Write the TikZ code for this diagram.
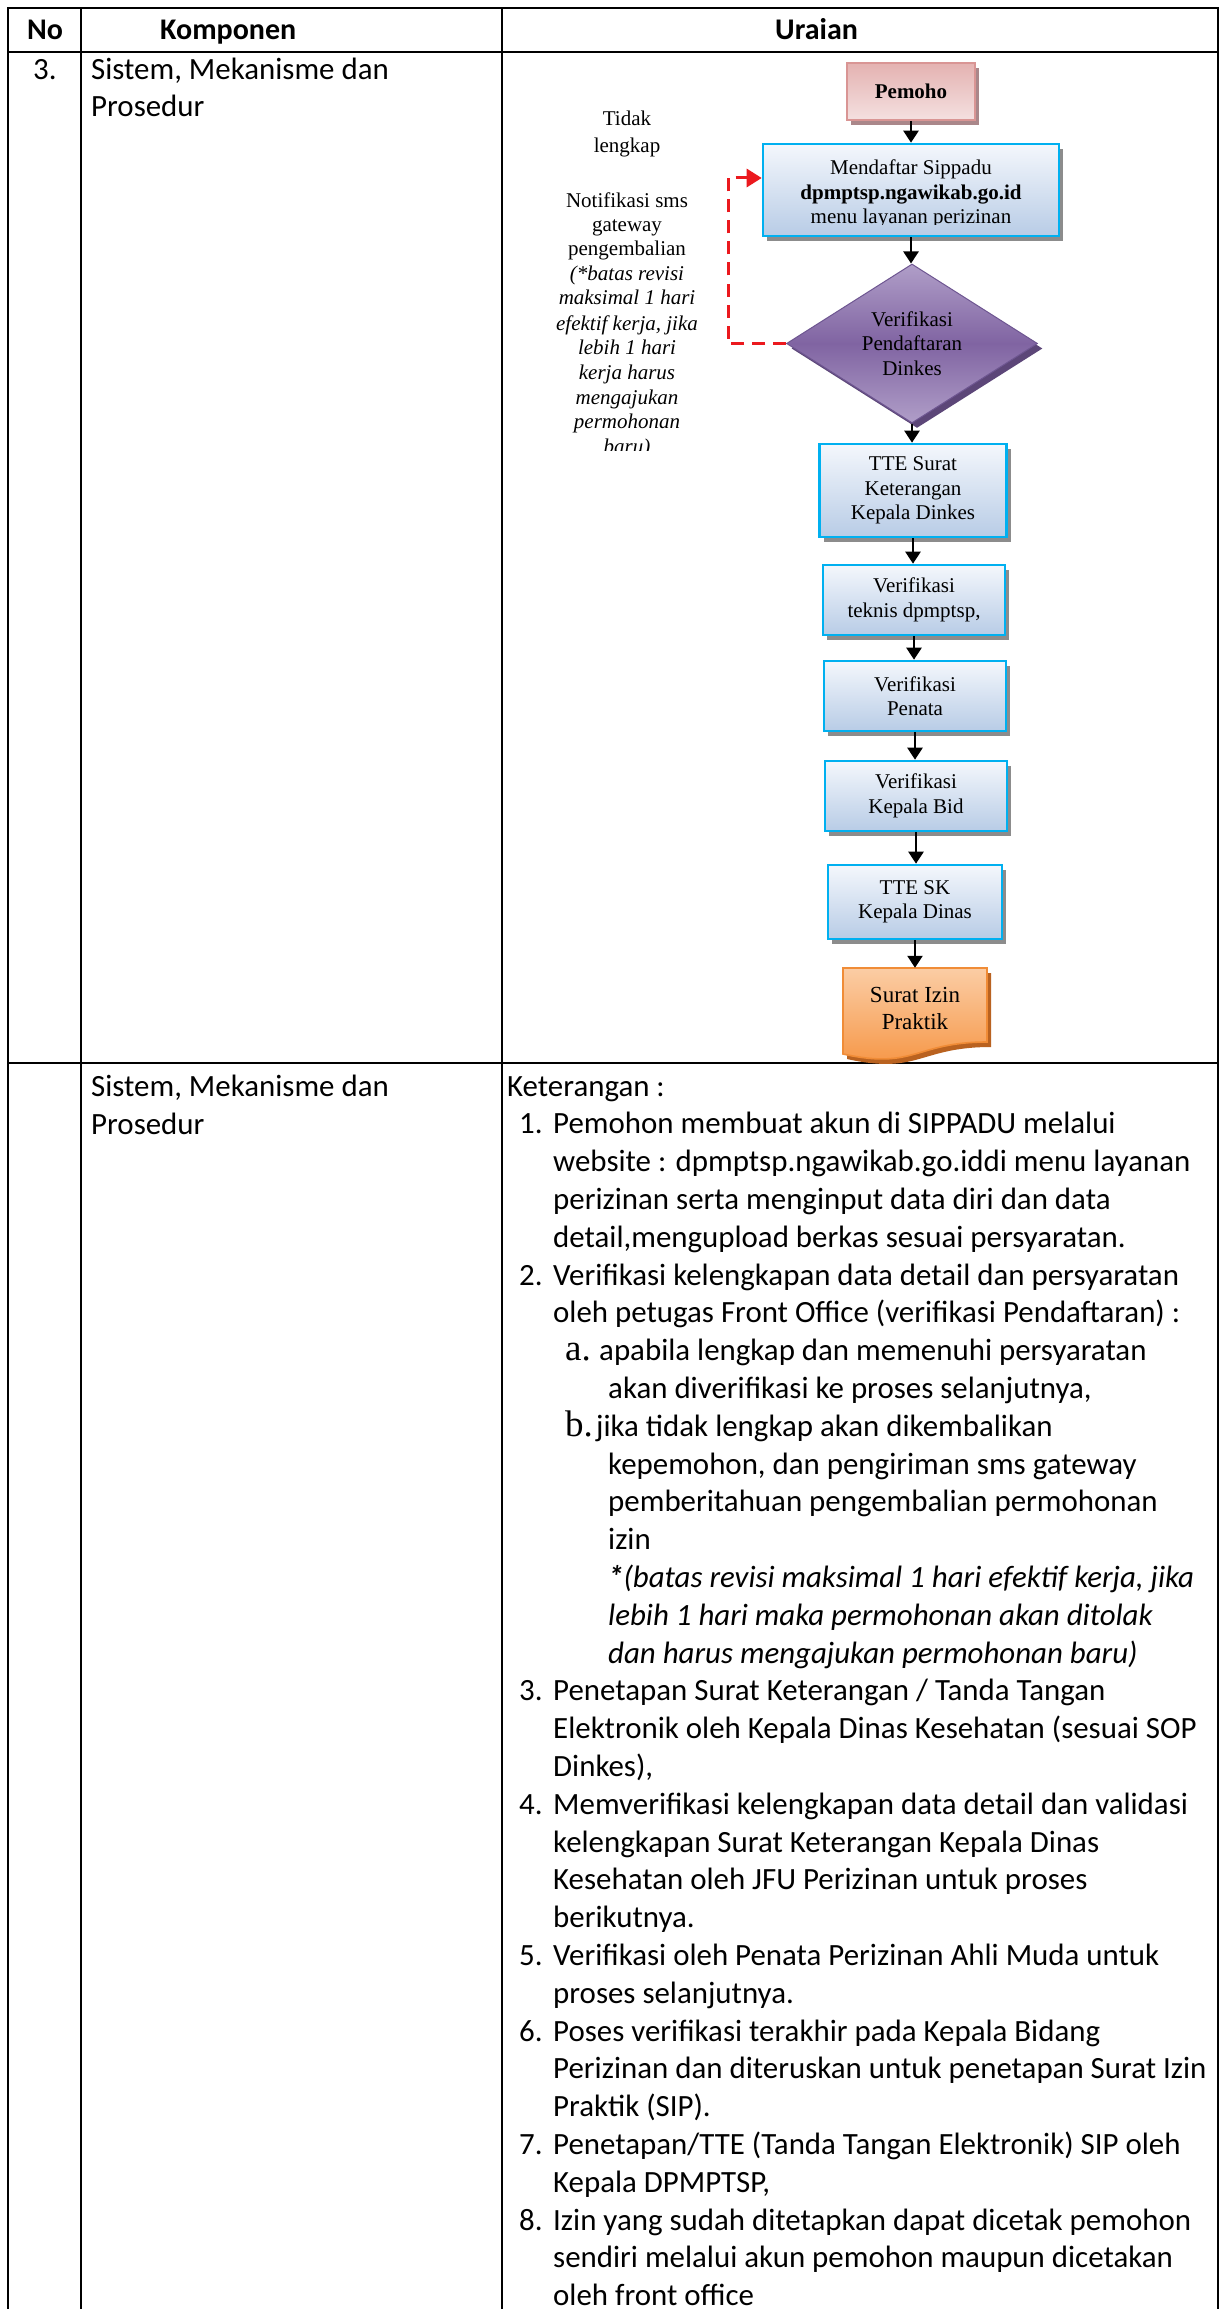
\documentclass[tikz,border=0pt]{standalone}
\usepackage{fontspec}
\setmainfont{Carlito}
\newfontfamily\tms{Liberation Serif}
\usetikzlibrary{shapes.geometric,shadows,arrows.meta}

\definecolor{cyanB}{RGB}{0,176,240}
\definecolor{boxTop}{RGB}{244,247,252}
\definecolor{boxBot}{RGB}{184,204,230}
\definecolor{shGray}{RGB}{140,140,140}
\definecolor{pinkB}{RGB}{217,149,148}
\definecolor{pinkTop}{RGB}{228,178,177}
\definecolor{pinkBot}{RGB}{244,224,224}
\definecolor{pinkSh}{RGB}{170,135,138}
\definecolor{purTop}{RGB}{176,158,200}
\definecolor{purMid}{RGB}{128,100,162}
\definecolor{purEdge}{RGB}{110,86,145}
\definecolor{purSh}{RGB}{92,70,120}
\definecolor{orgTop}{RGB}{251,205,165}
\definecolor{orgBot}{RGB}{246,148,66}
\definecolor{orgB}{RGB}{240,140,55}
\definecolor{orgSh}{RGB}{185,98,32}
\definecolor{redD}{RGB}{235,25,30}

\newcommand\bodyfont{\fontsize{30.9}{37.8}\selectfont}
\newcommand\headfont{\bfseries\fontsize{30}{34}\selectfont}
\newcommand\figfont{\tms\fontsize{21}{24.5}\selectfont}
\newcommand\letterfont{\tms\fontsize{37}{38}\selectfont}
% one line of the Keterangan list: name, x, line index, text
\newcommand\bodyline[4]{\node[txt] (#1) at (#2,{1096+37.8*#3}) {#4};}

\begin{document}
\begin{tikzpicture}[x=1pt,y=-1pt,
  grid/.style={line width=2.9pt,black},
  txt/.style={anchor=base west,inner sep=0pt,font=\bodyfont},
  itxt/.style={txt,font=\bodyfont\itshape},
  head/.style={anchor=base,inner sep=0pt,font=\headfont},
  figt/.style={anchor=base,inner sep=0pt,font=\figfont},
  figti/.style={figt,font=\figfont\itshape},
  flowbox/.style={rectangle,draw=cyanB,line width=2.6pt,top color=boxTop,bottom color=boxBot,
    drop shadow={shadow xshift=4pt,shadow yshift=-5pt,fill=shGray,opacity=1},
    font=\figfont,align=center,inner sep=0pt},
  link/.style={line width=2.4pt,black,-{Triangle[length=12pt,width=15pt]}},
  ret/.style={draw=redD,line width=3pt,dash pattern=on 13pt off 8pt,-{Triangle[length=15pt,width=18pt,fill=redD]}}
]
\useasboundingbox (0,0) rectangle (1225,2309);
\fill[white] (0,0) rectangle (1225,2309);
\begin{scope}
\clip (0,0) rectangle (1225,2309);

% ---------- table frame ----------
\draw[grid] (8,2320) -- (8,8) -- (1218,8) -- (1218,2320);
\draw[grid] (8,52) -- (1218,52);
\draw[grid] (8,1063) -- (1218,1063);
\draw[grid] (81,8) -- (81,2320);
\draw[grid] (502,8) -- (502,2320);

% ---------- header ----------
\node[head] (hNo) at (45,40) {No};
\node[head,anchor=base west] (hKomp) at (160,40) {Komponen};
\node[head,anchor=base west] (hUr) at (775,40) {Uraian};

% ---------- row one ----------
\node[txt] (rNo) at (33,80) {3.};
\node[txt] (rK1) at (91,80) {Sistem, Mekanisme dan};
\node[txt] (rK2) at (91,117) {Prosedur};

% ---------- flowchart ----------
\node[rectangle,draw=pinkB,line width=2.4pt,top color=pinkTop,bottom color=pinkBot,
  drop shadow={shadow xshift=4pt,shadow yshift=-5pt,fill=pinkSh,opacity=1},
  minimum width=128pt,minimum height=57pt,inner sep=0pt,
  font=\tms\bfseries\fontsize{21}{24}\selectfont] (pm) at (911,91.5) {Pemoho};

\node[flowbox,minimum width=296pt,minimum height=92pt] (md) at (911,190) {};
\begin{scope}
  \clip (763,144) rectangle (1059,225);
  \node[font=\figfont,align=center,inner sep=0pt] (mdt) at (911,194)
    {Mendaftar Sippadu\\\textbf{dpmptsp.ngawikab.go.id}\\menu layanan perizinan};
\end{scope}

\node[diamond,aspect=1.58,minimum width=251pt,minimum height=159pt,inner sep=0pt,
  draw=purEdge,line width=1pt,top color=purTop,bottom color=purTop,middle color=purMid,
  drop shadow={shadow xshift=5pt,shadow yshift=-5pt,fill=purSh,opacity=1},
  font=\figfont,align=center] (vd) at (912,343.5) {Verifikasi\\Pendaftaran\\Dinkes};

\node[flowbox,minimum width=187pt,minimum height=93pt] (tte1) at (913,490.5) {TTE Surat\\Keterangan\\Kepala Dinkes};
\node[flowbox,minimum width=182pt,minimum height=70pt] (vt) at (914,600) {Verifikasi\\teknis dpmptsp,};
\node[flowbox,minimum width=182pt,minimum height=70pt] (vpen) at (915,696) {Verifikasi\\Penata};
\node[flowbox,minimum width=182pt,minimum height=70pt] (vkb) at (916,796) {Verifikasi\\Kepala Bid};
\node[flowbox,minimum width=174pt,minimum height=74pt] (tsk) at (915,902) {TTE SK\\Kepala Dinas};

% document shape for the permit
\fill[orgSh] (847,973) -- (991,973) -- (991,1047) .. controls (919,1047) and (919,1075) .. (847,1059) -- cycle;
\draw[draw=orgB,line width=1.6pt,top color=orgTop,bottom color=orgBot]
  (843,968) -- (987,968) -- (987,1042) .. controls (915,1042) and (915,1070) .. (843,1054) -- cycle;
\node[font=\tms\fontsize{23}{27}\selectfont,align=center,inner sep=0pt,
  minimum width=144pt,minimum height=80pt] (sip) at (915,1008) {Surat Izin\\Praktik};

% connectors
\draw[link] (pm.south) -- (pm.south |- md.north);
\draw[link] (md.south) -- (md.south |- vd.north);
\draw[link] (vd.south) -- (vd.south |- tte1.north);
\draw[link] (tte1.south) -- (tte1.south |- vt.north);
\draw[link] (vt.south) -- (vt.south |- vpen.north);
\draw[link] (vpen.south) -- (vpen.south |- vkb.north);
\draw[link] (vkb.south) -- (vkb.south |- tsk.north);
\draw[link] (tsk.south) -- (tsk.south |- sip.north);

\coordinate (retIn) at ([yshift=12pt]md.west);
\draw[ret] (vd.west) -- ++(-58,0) |- (retIn);

% note beside the return path
\begin{scope}
  \clip (540,90) rectangle (725,450);
  \node[figt] (n1) at (627,126) {Tidak};
  \node[figt] (n2) at (627,153) {lengkap};
  \node[figt] (n3) at (627,208) {Notifikasi sms};
  \node[figt] (n4) at (627,232) {gateway};
  \node[figt] (n5) at (627,256) {pengembalian};
  \node[figti] (n6) at (627,280) {(*batas revisi};
  \node[figti] (n7) at (627,305) {maksimal 1 hari};
  \node[figti] (n8) at (627,330) {efektif kerja, jika};
  \node[figti] (n9) at (627,354) {lebih 1 hari};
  \node[figti] (n10) at (627,379) {kerja harus};
  \node[figti] (n11) at (627,404) {mengajukan};
  \node[figti] (n12) at (627,428) {permohonan};
  \node[figti] (n13) at (627,453) {baru)};
\end{scope}

% ---------- row two ----------
\node[txt] (sK1) at (91,1096) {Sistem, Mekanisme dan};
\node[txt] (sK2) at (91,1134) {Prosedur};

\bodyline{k0}{507}{0}{Keterangan :}
\bodyline{n1}{519}{1}{1.}
\bodyline{k1}{553}{1}{Pemohon membuat akun di SIPPADU melalui}
\bodyline{k2}{553}{2}{website : dpmptsp.ngawikab.go.iddi menu layanan}
\bodyline{k3}{553}{3}{perizinan serta menginput data diri dan data}
\bodyline{k4}{553}{4}{detail,mengupload berkas sesuai persyaratan.}
\bodyline{n2}{519}{5}{2.}
\bodyline{k5}{553}{5}{Verifikasi kelengkapan data detail dan persyaratan}
\bodyline{k6}{553}{6}{oleh petugas Front Office (verifikasi Pendaftaran) :}
\node[txt,font=\letterfont] (la) at (565,{1096+37.8*7}) {a.};
\bodyline{k7}{599}{7}{apabila lengkap dan memenuhi persyaratan}
\bodyline{k8}{608}{8}{akan diverifikasi ke proses selanjutnya,}
\node[txt,font=\letterfont] (lb) at (565,{1096+37.8*9}) {b.};
\bodyline{k9}{596}{9}{jika tidak lengkap akan dikembalikan}
\bodyline{k10}{608}{10}{kepemohon, dan pengiriman sms gateway}
\bodyline{k11}{608}{11}{pemberitahuan pengembalian permohonan}
\bodyline{k12}{608}{12}{izin}
\node[itxt] (k13) at (608,{1096+37.8*13}) {\textbf{*}(batas revisi maksimal 1 hari efektif kerja, jika};
\node[itxt] (k14) at (608,{1096+37.8*14}) {lebih 1 hari maka permohonan akan ditolak};
\node[itxt] (k15) at (608,{1096+37.8*15}) {dan harus mengajukan permohonan baru)};
\bodyline{n3}{519}{16}{3.}
\bodyline{k16}{553}{16}{Penetapan Surat Keterangan / Tanda Tangan}
\bodyline{k17}{553}{17}{Elektronik oleh Kepala Dinas Kesehatan (sesuai SOP}
\bodyline{k18}{553}{18}{Dinkes),}
\bodyline{n4}{519}{19}{4.}
\bodyline{k19}{553}{19}{Memverifikasi kelengkapan data detail dan validasi}
\bodyline{k20}{553}{20}{kelengkapan Surat Keterangan Kepala Dinas}
\bodyline{k21}{553}{21}{Kesehatan oleh JFU Perizinan untuk proses}
\bodyline{k22}{553}{22}{berikutnya.}
\bodyline{n5}{519}{23}{5.}
\bodyline{k23}{553}{23}{Verifikasi oleh Penata Perizinan Ahli Muda untuk}
\bodyline{k24}{553}{24}{proses selanjutnya.}
\bodyline{n6}{519}{25}{6.}
\bodyline{k25}{553}{25}{Poses verifikasi terakhir pada Kepala Bidang}
\bodyline{k26}{553}{26}{Perizinan dan diteruskan untuk penetapan Surat Izin}
\bodyline{k27}{553}{27}{Praktik (SIP).}
\bodyline{n7}{519}{28}{7.}
\bodyline{k28}{553}{28}{Penetapan/TTE (Tanda Tangan Elektronik) SIP oleh}
\bodyline{k29}{553}{29}{Kepala DPMPTSP,}
\bodyline{n8}{519}{30}{8.}
\bodyline{k30}{553}{30}{Izin yang sudah ditetapkan dapat dicetak pemohon}
\bodyline{k31}{553}{31}{sendiri melalui akun pemohon maupun dicetakan}
\bodyline{k32}{553}{32}{oleh front office}
\end{scope}
\end{tikzpicture}
\end{document}
